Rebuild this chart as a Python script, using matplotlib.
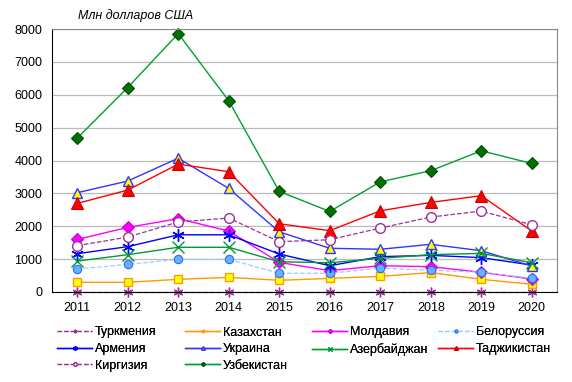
import numpy as np
import matplotlib
matplotlib.use("Agg")
import matplotlib.pyplot as plt

plt.rcParams['font.family'] = ['Liberation Sans', 'DejaVu Sans']

years = ['2011', '2012', '2013', '2014', '2015', '2016', '2017', '2018', '2019', '2020']

turkmenia = [0, 0, 0, 0, 0, 0, 0, 0, 0, 0]
kazakhstan = [295, 295, 385, 445, 355, 415, 475, 590, 385, 235]
moldavia = [1600, 1965, 2230, 1855, 900, 650, 800, 770, 600, 395]
belorussia = [700, 840, 995, 995, 570, 570, 730, 660, 600, 415]
armenia = [1165, 1380, 1740, 1740, 1155, 800, 1075, 1115, 1045, 820]
ukraine = [3020, 3375, 4070, 3150, 1830, 1330, 1300, 1450, 1255, 790]
azerbaijan = [940, 1135, 1360, 1360, 920, 890, 1025, 1135, 1175, 890]
tajikistan = [2695, 3100, 3890, 3660, 2075, 1865, 2470, 2725, 2930, 1855]
kirgizia = [1410, 1670, 2130, 2250, 1530, 1590, 1945, 2280, 2460, 2045]
uzbekistan = [4680, 6220, 7860, 5815, 3060, 2450, 3350, 3690, 4295, 3910]

x = np.arange(len(years))
asterisk = (6, 2, 0)
fs = 9

fig = plt.figure(figsize=(5.72, 3.82), dpi=100)
ax = fig.add_axes([52/572, 1 - 292/382, 505/572, 263/382])

lines = {}
lines['Туркмения'] = ax.plot(x, turkmenia, color='#993399', ls='--', lw=0.9,
                             marker=asterisk, ms=7, mew=1.0, mec='#993399')[0]
lines['Казахстан'] = ax.plot(x, kazakhstan, color='#FF9900', lw=1.0,
                             marker='s', ms=6, mfc='#FFFF00', mec='#FF9900', mew=1.0)[0]
lines['Молдавия'] = ax.plot(x, moldavia, color='#FF00FF', lw=1.0,
                            marker='D', ms=6, mfc='#FF00FF', mec='#CC00CC', mew=0.8)[0]
lines['Белоруссия'] = ax.plot(x, belorussia, color='#99CCFF', ls='--', lw=0.9,
                              marker='o', ms=6, mfc='#66B2FF', mec='#3366FF', mew=0.8)[0]
lines['Армения'] = ax.plot(x, armenia, color='#0000FF', lw=1.0,
                           marker=asterisk, ms=9, mew=1.0, mec='#0000FF')[0]
lines['Украина'] = ax.plot(x, ukraine, color='#3333FF', lw=1.0,
                           marker='^', ms=7, mfc='#FFFF00', mec='#3333FF', mew=1.0)[0]
lines['Азербайджан'] = ax.plot(x, azerbaijan, color='#009933', lw=1.0,
                               marker='x', ms=8, mew=1.0, mec='#009933')[0]
lines['Таджикистан'] = ax.plot(x, tajikistan, color='#FF0000', lw=1.0,
                               marker='^', ms=8, mfc='#FF0000', mec='#CC0000', mew=0.8)[0]
lines['Киргизия'] = ax.plot(x, kirgizia, color='#993399', ls='--', lw=0.9,
                            marker='o', ms=7, mfc='white', mec='#993399', mew=1.0)[0]
lines['Узбекистан'] = ax.plot(x, uzbekistan, color='#00A030', lw=1.0,
                              marker='D', ms=6, mfc='#007000', mec='#005000', mew=0.8)[0]
for ln in lines.values():
    ln.set_clip_on(False)

ax.set_xlim(-0.5, len(years) - 0.5)
ax.set_ylim(0, 8000)
ax.set_yticks(np.arange(0, 8001, 1000))
ax.set_xticks(x)
ax.set_xticklabels(years)
ax.tick_params(axis='both', length=0, labelsize=fs)
ax.tick_params(axis='x', pad=7.5)
ax.tick_params(axis='y', pad=7)
ax.yaxis.grid(True, color='#BBBBBB', lw=0.9)
ax.set_axisbelow(True)
ax.spines['left'].set_color('black')
ax.spines['bottom'].set_color('black')
ax.spines['top'].set_color('#888888')
ax.spines['right'].set_color('#888888')

fig.text(78/572, 1 - 15.5/382, 'Млн долларов США', fontsize=fs, style='italic',
         va='center', ha='left')

# legend: four columns of equal width, like the spreadsheet legend
columns = [['Туркмения', 'Армения', 'Киргизия'],
           ['Казахстан', 'Украина', 'Узбекистан'],
           ['Молдавия', 'Азербайджан'],
           ['Белоруссия', 'Таджикистан']]
col_x = [57, 185, 312, 438]
for names, cx in zip(columns, col_x):
    leg = fig.legend([lines[k] for k in names], names, loc='upper left',
                     bbox_to_anchor=(cx/572, 1 - 326.5/382), frameon=False,
                     fontsize=fs, markerscale=0.35, handlelength=2.8,
                     labelspacing=0.37, handletextpad=0.25,
                     borderpad=0, borderaxespad=0)
    fig.add_artist(leg)

fig.savefig('out.png', dpi=100)
